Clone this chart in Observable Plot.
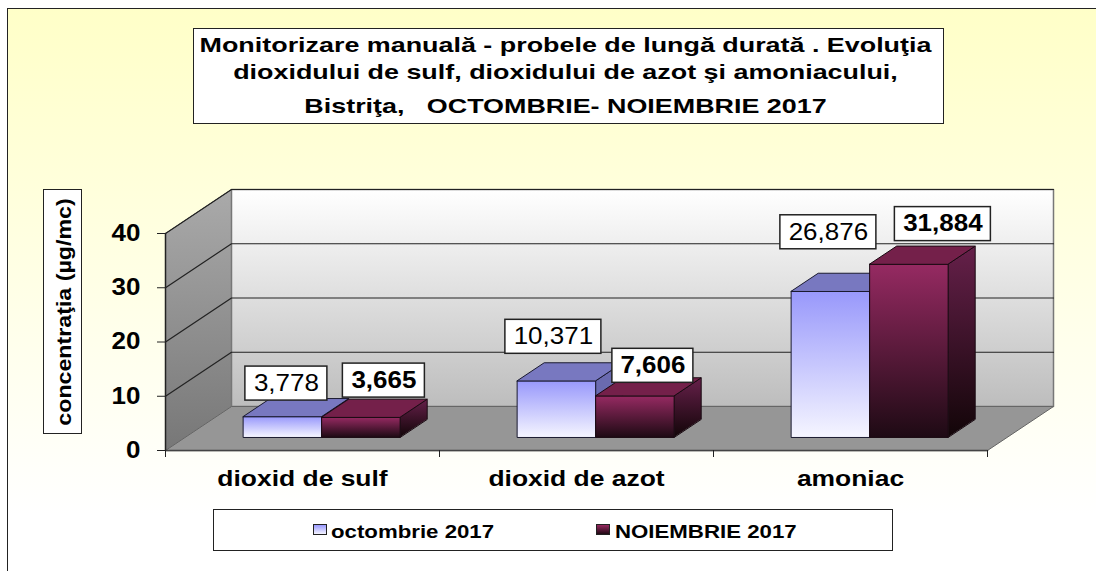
<!DOCTYPE html>
<html><head><meta charset="utf-8">
<script src="https://cdn.jsdelivr.net/npm/d3@7"></script>
<script src="https://cdn.jsdelivr.net/npm/@observablehq/plot@0.6"></script>
<style>
html,body{margin:0;padding:0;background:#fff;width:1096px;height:571px;overflow:hidden;font-family:"Liberation Sans",Arial,sans-serif}
#frame{position:absolute;left:7px;top:8px;width:1089px;height:563px;box-sizing:border-box;border-left:1.5px solid #222;border-top:1.5px solid #222;background:linear-gradient(#ffffc8,#ffffff 90%)}
#chart{position:absolute;left:0;top:0}
.box{position:absolute;box-sizing:border-box;border:1.5px solid #222;background:#fff;color:#000;font-weight:bold;white-space:pre;text-align:center}
.st{position:absolute;font-weight:bold;color:#000;white-space:pre;transform-origin:0 50%}
.tl{transform:translateX(-3px) scaleX(1.28)}
</style></head><body>
<div id="frame"></div><div id="chart"></div>
<div class="box" style="left:193px;top:28px;width:751px;height:96px;font-size:21px;padding-top:1.5px"><div class="tl" style="line-height:28px">Monitorizare manuală - probele de lungă durată . Evoluţia</div><div class="tl" style="line-height:26px">dioxidului de sulf, dioxidului de azot şi amoniacului,</div><div class="tl" style="line-height:27px;margin-top:7px">Bistriţa,   OCTOMBRIE- NOIEMBRIE 2017</div></div>
<div class="box" style="left:43px;top:189px;width:39px;height:245px"><div style="position:absolute;left:19.5px;top:122px;transform:translate(-50%,-50%) rotate(-90deg) scaleX(1.16);font-size:20px">concentraţia (µg/mc)</div></div>
<div class="box" style="left:213px;top:509px;width:680px;height:42px"></div>
<div style="position:absolute;left:313px;top:524px;width:14px;height:11px;box-sizing:border-box;border:1.5px solid #222;background:linear-gradient(#9999ff,#f4f4ff)"></div>
<div class="st" style="left:331px;top:521px;font-size:19px;transform:scaleX(1.17)">octombrie 2017</div>
<div style="position:absolute;left:596px;top:524px;width:14px;height:11px;box-sizing:border-box;border:1.5px solid #222;background:linear-gradient(#96285f,#200a14)"></div>
<div class="st" style="left:615px;top:521px;font-size:19px;transform:scaleX(1.17)">NOIEMBRIE 2017</div>
<script>
const categories = ["dioxid de sulf", "dioxid de azot", "amoniac"];
const series = ["octombrie 2017", "NOIEMBRIE 2017"];
const octombrie = [3.778, 10.371, 26.876];
const noiembrie = [3.665, 7.606, 31.884];
const labelsOct = ["3,778", "10,371", "26,876"];
const labelsNov = ["3,665", "7,606", "31,884"];
const yTicks = [0, 10, 20, 30, 40];

// oblique 3D projection in data units
const pxX = 274, pxY = 5.425;          // px per category, px per unit
const depthX = 66 / pxX, depthY = 44 / pxY;
const P = (cx, v, d) => ({x: cx + d * depthX, y: v + d * depthY});
const poly = (id, pts) => pts.map(p => ({id, ...p}));
const d0 = 0.305, d1 = 0.715;          // bar depth on the floor
const barW = 78.5 / pxX, barStart = 57.5 / pxX;

const faces = {octFront: [], octTop: [], octSide: [], novFront: [], novTop: [], novSide: []};
categories.forEach((c, i) => {
  [["oct", octombrie[i], i + barStart], ["nov", noiembrie[i], i + barStart + barW]].forEach(([k, v, x]) => {
    const id = k + i;
    faces[k + "Front"].push(...poly(id, [P(x, 0, d0), P(x, v, d0), P(x + barW, v, d0), P(x + barW, 0, d0)]));
    faces[k + "Top"].push(...poly(id, [P(x, v, d0), P(x, v, d1), P(x + barW, v, d1), P(x + barW, v, d0)]));
    faces[k + "Side"].push(...poly(id, [P(x + barW, 0, d0), P(x + barW, v, d0), P(x + barW, v, d1), P(x + barW, 0, d1)]));
  });
});
const n = categories.length;
const backWall = poly("b", [P(0, 0, 1), P(0, 40, 1), P(n, 40, 1), P(n, 0, 1)]);
const leftWall = poly("l", [P(0, 0, 0), P(0, 40, 0), P(0, 40, 1), P(0, 0, 1)]);
const floor = poly("f", [P(0, 0, 0), P(0, 0, 1), P(n, 0, 1), P(n, 0, 0)]);
const gridY = yTicks.slice(1).flatMap(t => poly("g" + t, [P(0, t, 0), P(0, t, 1), P(n, t, 1)]));

const face = (data, fill, stroke = "#1a1a30", sw = 1) =>
  Plot.line(data, {x: "x", y: "y", z: "id", fill, stroke, strokeWidth: sw, curve: "linear-closed"});

// value labels: nudge of the box centre from the bar's front-top centre, in px
const nudges = [[4, -33], [23, -36.6], [-3, -44], [18, -30], [-2, -59], [34, -40]];
const labelData = categories.flatMap((c, i) => [
  {t: labelsOct[i], v: octombrie[i], x: i + barStart + barW / 2, bold: false, w: i ? 96 : 82, n: nudges[i * 2]},
  {t: labelsNov[i], v: noiembrie[i], x: i + barStart + barW * 1.5, bold: true, w: i === 0 ? 82 : i === 1 ? 81 : 96, n: nudges[i * 2 + 1]}
]).map(d => {
  const p = P(d.x, d.v, d0);
  return {...d, cx: p.x + d.n[0] / pxX, cy: p.y - d.n[1] / pxY};
});
const hw = d => d.w / 2 / pxX, hh = 17 / pxY;

const plot = Plot.plot({
  width: 1096, height: 571,
  marginLeft: 165, marginRight: 109, marginTop: 233, marginBottom: 121,
  style: {background: "transparent", fontFamily: "'Liberation Sans',Arial,sans-serif", overflow: "visible"},
  x: {domain: [0, n], label: null},
  y: {domain: [0, 40], label: null},
  marks: [
    face(leftWall, "url(#wallL)", "#666", 1),
    face(backWall, "url(#wallB)", "#777", 1.5),
    face(floor, "#969696", "#666", 1),
    Plot.line(gridY, {x: "x", y: "y", z: "id", stroke: "#222", strokeWidth: 1.2}),
    Plot.line(poly("e", [P(0, 0, 0), P(n, 0, 0)]), {x: "x", y: "y", stroke: "#444", strokeWidth: 1.5}),
    Plot.line(poly("a", [P(0, 0, 0), P(0, 40, 0)]), {x: "x", y: "y", stroke: "#222", strokeWidth: 1.5}),
    face(faces.octSide, "#6a6ab0"),
    face(faces.octFront, "url(#octF)"),
    face(faces.octTop, "#7878c0"),
    face(faces.novSide, "url(#novS)", "#1a0a12"),
    face(faces.novFront, "url(#novF)", "#1a0a12"),
    face(faces.novTop, "#74204a", "#1a0a12"),
    Plot.rect(labelData, {x1: d => d.cx - hw(d), x2: d => d.cx + hw(d), y1: d => d.cy - hh, y2: d => d.cy + hh, fill: "#fff", stroke: "#222", strokeWidth: 1.5}),
    Plot.text(labelData.filter(d => !d.bold), {x: "cx", y: "cy", text: "t", fontSize: 23, fill: "#000"}),
    Plot.text(labelData.filter(d => d.bold), {x: "cx", y: "cy", text: "t", fontSize: 23, fontWeight: "bold", fill: "#000"}),
    Plot.axisY({ticks: yTicks, tickSize: 8, tickPadding: 17, fontSize: 23, fontWeight: "bold", label: null, stroke: "#222", fill: "#000", tickFormat: d => String(d)}),
    Plot.axisX({ticks: d3.range(n + 1), tickSize: 7, tickFormat: null, text: null, label: null, stroke: "#222"}),
    Plot.axisX({ticks: categories.map((c, i) => i + 0.5), tickSize: 0, tickPadding: 20, fontSize: 22.5, fontWeight: "bold", label: null, fill: "#000", tickFormat: t => categories[Math.floor(t)]})
  ]
});
plot.insertAdjacentHTML("afterbegin", `<defs>
<linearGradient id="wallB" x1="0" y1="0" x2="0" y2="1"><stop offset="0" stop-color="#fff"/><stop offset="1" stop-color="#bdbdbd"/></linearGradient>
<linearGradient id="wallL" x1="0" y1="0" x2="0" y2="1"><stop offset="0" stop-color="#aaa"/><stop offset="1" stop-color="#777"/></linearGradient>
<linearGradient id="octF" x1="0" y1="0" x2="0" y2="1"><stop offset="0" stop-color="#9898fb"/><stop offset="1" stop-color="#f5f5ff"/></linearGradient>
<linearGradient id="novF" x1="0" y1="0" x2="0" y2="1"><stop offset="0" stop-color="#962a62"/><stop offset="1" stop-color="#1e0a14"/></linearGradient>
<linearGradient id="novS" x1="0" y1="0" x2="0" y2="1"><stop offset="0" stop-color="#66204a"/><stop offset="1" stop-color="#120508"/></linearGradient>
</defs>`);
// the reference's lettering is stretched horizontally: widen each text about its anchor
const widen = new Map([["23", 1.13], ["22.5", 1.175]]);
plot.querySelectorAll("g[aria-label]").forEach(g => {
  const k = widen.get(String(parseFloat(g.getAttribute("font-size"))));
  if (!k) return;
  g.querySelectorAll("text").forEach(t => {
    const tr = t.getAttribute("transform");
    if (tr) t.setAttribute("transform", tr + ` scale(${k},1)`);
  });
});
document.getElementById("chart").appendChild(plot);
</script></body></html>
